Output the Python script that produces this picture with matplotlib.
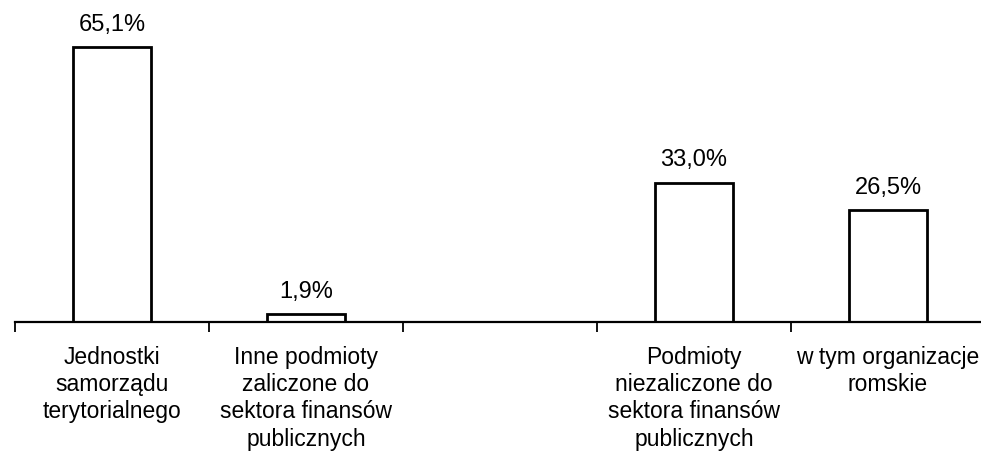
import matplotlib
matplotlib.use("Agg")
import matplotlib.pyplot as plt
import numpy as np

categories = [
    "Jednostki\nsamorządu\nterytorialnego",
    "Inne podmioty\nzaliczone do\nsektora finansów\npublicznych",
    "",
    "Podmioty\nniezaliczone do\nsektora finansów\npublicznych",
    "w tym organizacje\nromskie",
]
values = [65.1, 1.9, None, 33.0, 26.5]
value_labels = ["65,1%", "1,9%", "", "33,0%", "26,5%"]

plt.rcParams['font.family'] = ['Liberation Sans', 'DejaVu Sans']

fig = plt.figure(figsize=(9.81, 4.55), dpi=100)
W, H = 981, 455
left_px, right_px = 15, 985
base_px = 322
scale = 4.224  # px per unit
ymax = 70
ax = fig.add_axes([left_px / W, (H - base_px) / H, (right_px - left_px) / W, ymax * scale / H])

x = np.arange(len(categories))
for xi, v, lab in zip(x, values, value_labels):
    if v is None:
        continue
    ax.bar(xi, v, width=0.40, facecolor="white", edgecolor="black", linewidth=2.0, zorder=3)
    ax.annotate(lab, (xi, v), xytext=(0, 8), textcoords="offset points",
                ha="center", va="bottom", fontsize=17)

ax.set_xlim(-0.5, len(categories) - 0.5)
ax.set_ylim(0, ymax)
ax.set_xticks(x)
ax.set_xticklabels(categories, fontsize=16.5, linespacing=1.24)
ax.set_xticks(np.arange(-0.5, len(categories)), minor=True)
ax.tick_params(axis="x", which="major", length=0, pad=17)
ax.tick_params(axis="x", which="minor", length=7, width=1.3, direction="out")
ax.set_yticks([])
for s in ["top", "right", "left"]:
    ax.spines[s].set_visible(False)
ax.spines["bottom"].set_linewidth(1.6)
ax.spines["bottom"].set_zorder(4)

fig.savefig("out.png", dpi=100)
